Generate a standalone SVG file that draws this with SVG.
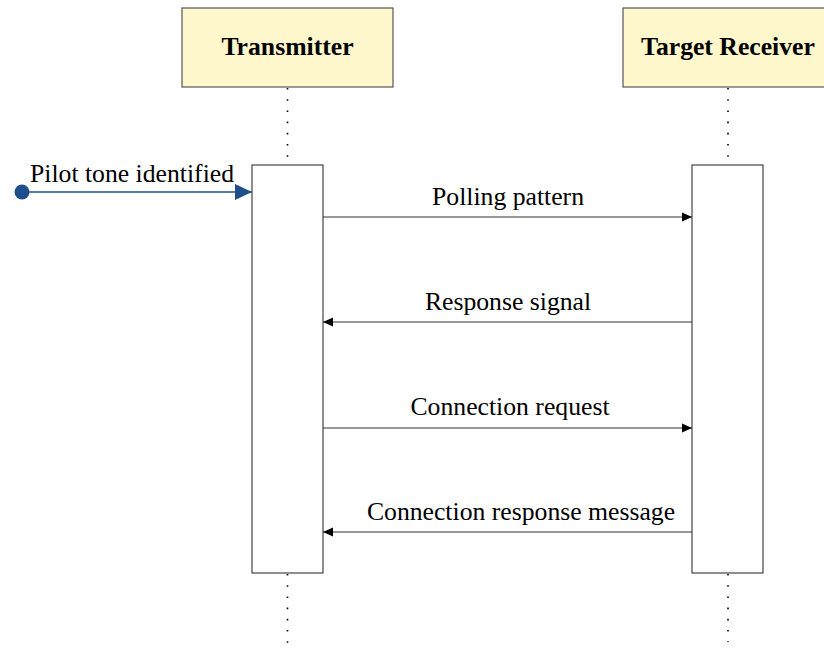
<svg xmlns="http://www.w3.org/2000/svg" width="824" height="652" viewBox="0 0 824 652">
<style>
.hdr{fill:#fff7cc;stroke:#555;stroke-width:1.2}
.act{fill:#fff;stroke:#444;stroke-width:1.2}
.life{stroke:#000;stroke-width:1.6;stroke-dasharray:1.6,9.6;fill:none}
.msg{stroke:#333;stroke-width:1;fill:none}
.t{font-family:"Liberation Serif","Times New Roman",serif;font-size:25.7px;fill:#000}
.b{font-weight:bold;text-anchor:middle}
.c{text-anchor:middle}
</style>
<defs>
<marker id="ah" markerWidth="10" markerHeight="10" refX="10" refY="5" orient="auto" markerUnits="userSpaceOnUse">
<path d="M0,0.5 L10,5 L0,9.5 Z" fill="#000"/>
</marker>
<marker id="big" markerWidth="18" markerHeight="18" refX="17" refY="9" orient="auto" markerUnits="userSpaceOnUse">
<path d="M0,1 L17,9 L0,17 Z" fill="#1f4e8c"/>
</marker>
</defs>
<g id="lifelines">
<line class="life" x1="287.5" y1="88" x2="287.5" y2="165"/>
<line class="life" x1="287.5" y1="574" x2="287.5" y2="652"/>
<line class="life" x1="728" y1="88" x2="728" y2="165"/>
<line class="life" x1="728" y1="574" x2="728" y2="642"/>
</g>
<g id="transmitter">
<rect class="hdr" x="182" y="8" width="211" height="79"/>
<text class="t b" x="287.5" y="55">Transmitter</text>
</g>
<g id="target-receiver">
<rect class="hdr" x="623" y="8" width="210" height="79"/>
<text class="t b" x="728" y="55">Target Receiver</text>
</g>
<g id="transmitter-activation">
<rect class="act" x="252" y="165" width="71" height="408"/>
</g>
<g id="receiver-activation">
<rect class="act" x="692" y="165" width="71" height="408"/>
</g>
<g id="connectors">
<circle cx="22" cy="192" r="7.5" fill="#1f4e8c"/>
<line x1="22" y1="192" x2="252" y2="192" stroke="#1f4e8c" stroke-width="1.3" marker-end="url(#big)"/>
<line class="msg" x1="323" y1="217" x2="692" y2="217" marker-end="url(#ah)"/>
<line class="msg" x1="692" y1="322" x2="323" y2="322" marker-end="url(#ah)"/>
<line class="msg" x1="323" y1="428" x2="692" y2="428" marker-end="url(#ah)"/>
<line class="msg" x1="692" y1="532" x2="323" y2="532" marker-end="url(#ah)"/>
</g>
<g id="labels">
<text class="t" x="30" y="182">Pilot tone identified</text>
<text class="t c" x="508" y="205">Polling pattern</text>
<text class="t c" x="508" y="310">Response signal</text>
<text class="t c" x="510" y="415">Connection request</text>
<text class="t c" x="521" y="520">Connection response message</text>
</g>
</svg>
